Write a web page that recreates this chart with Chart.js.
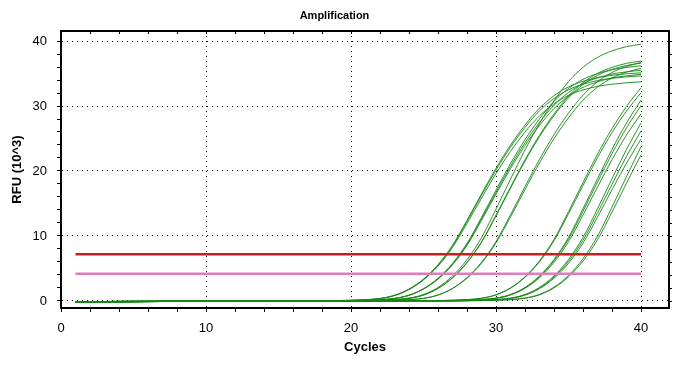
<!DOCTYPE html>
<html>
<head>
<meta charset="utf-8">
<script src="https://cdn.jsdelivr.net/npm/chart.js@4.4.1/dist/chart.umd.min.js"></script>
<style>
  html, body { margin: 0; padding: 0; background: #fff; }
</style>
</head>
<body>
<canvas id="cv_amp" width="689" height="365"></canvas>
<script>
// cycles on the x axis
const cycles = [1,2,3,4,5,6,7,8,9,10,11,12,13,14,15,16,17,18,19,20,21,22,23,24,25,26,27,28,29,30,31,32,33,34,35,36,37,38,39,40];

const xTickValues = [0,2,4,6,8,10,12,14,16,18,20,22,24,26,28,30,32,34,36,38,40];
const yTickValues = [0,2,4,6,8,10,12,14,16,18,20,22,24,26,28,30,32,34,36,38,40];
const xTickLabels = [0,10,20,30,40];
const yTickLabels = [0,10,20,30,40];

// threshold lines (RFU x 10^3)
const thresholds = [7.2, 4.2];
const thresholdColors = ['#d01c1c', '#e27bbb'];

// amplification curves, RFU (10^3) per cycle
const well01 = [-0.22,-0.19,-0.16,-0.13,-0.11,-0.09,-0.08,-0.06,-0.05,-0.04,-0.03,-0.02,-0.02,-0.01,-0.01,0,0,0.03,0.06,0.1,0.19,0.38,0.86,1.8,3.33,5.51,8.46,12.26,16.25,20.14,23.66,26.7,29.26,31.16,32.49,33.35,33.92,34.25,34.49,34.63];
const well02 = [-0.1,-0.09,-0.08,-0.07,-0.06,-0.05,-0.04,-0.03,-0.03,-0.02,-0.02,-0.01,-0.01,0,0,0,0.01,0.03,0.06,0.1,0.19,0.37,0.83,1.76,3.24,5.37,8.23,11.93,15.82,19.61,23.03,25.99,28.49,30.34,31.64,32.47,33.02,33.35,33.58,33.72];
const well03 = [-0.22,-0.19,-0.16,-0.13,-0.11,-0.09,-0.08,-0.06,-0.05,-0.04,-0.03,-0.02,-0.02,-0.01,-0.01,0,0,0.03,0.06,0.11,0.19,0.39,0.87,1.83,3.37,5.59,8.57,12.42,16.47,20.42,23.98,27.06,29.66,31.59,32.93,33.8,34.38,34.72,34.96,35.1];
const well04 = [-0.1,-0.09,-0.08,-0.07,-0.06,-0.05,-0.04,-0.03,-0.03,-0.02,-0.02,-0.01,-0.01,0,0,0,0.01,0.02,0.03,0.06,0.11,0.2,0.39,0.88,1.86,3.42,5.67,8.7,12.62,16.72,20.73,24.35,27.48,30.12,32.08,33.45,34.33,34.91,35.26,35.5];
const well05 = [-0.22,-0.19,-0.16,-0.13,-0.11,-0.09,-0.08,-0.06,-0.05,-0.04,-0.03,-0.02,-0.02,-0.01,-0.01,0,0,0.01,0.03,0.06,0.11,0.19,0.38,0.86,1.83,3.36,5.57,8.55,12.4,16.43,20.37,23.93,27.0,29.6,31.52,32.87,33.73,34.31,34.64,34.88];
const well06 = [-0.1,-0.09,-0.08,-0.07,-0.06,-0.05,-0.04,-0.03,-0.03,-0.02,-0.02,-0.01,-0.01,0,0,0,0.01,0.02,0.03,0.06,0.11,0.2,0.4,0.9,1.89,3.49,5.78,8.87,12.86,17.05,21.14,24.83,28.02,30.71,32.7,34.1,34.99,35.59,35.94,36.19];
const well07 = [-0.22,-0.19,-0.16,-0.13,-0.11,-0.09,-0.08,-0.06,-0.05,-0.04,-0.03,-0.02,-0.02,-0.01,-0.01,0,0,0.01,0.02,0.03,0.07,0.12,0.22,0.44,0.99,2.08,3.84,6.36,9.75,14.14,18.74,23.24,27.29,30.8,33.76,35.95,37.48,38.47,39.13,39.51];
const well08 = [-0.1,-0.09,-0.08,-0.07,-0.06,-0.05,-0.04,-0.03,-0.03,-0.02,-0.02,-0.01,-0.01,0,0,0,0.01,0.01,0.02,0.03,0.06,0.11,0.2,0.41,0.91,1.93,3.55,5.89,9.03,13.09,17.36,21.52,25.27,28.52,31.26,33.29,34.71,35.63,36.24,36.59];
const well09 = [-0.22,-0.19,-0.16,-0.13,-0.11,-0.09,-0.08,-0.06,-0.05,-0.04,-0.03,-0.02,-0.02,-0.01,-0.01,0,0,0.01,0.02,0.03,0.06,0.11,0.2,0.41,0.92,1.95,3.58,5.94,9.11,13.21,17.51,21.71,25.5,28.77,31.54,33.59,35.02,35.94,36.56,36.92];
const well10 = [-0.1,-0.09,-0.08,-0.07,-0.06,-0.05,-0.04,-0.03,-0.03,-0.02,-0.02,-0.01,-0.01,0,0,0,0.01,0.01,0.01,0.02,0.03,0.06,0.11,0.21,0.41,0.93,1.95,3.6,5.96,9.15,13.26,17.58,21.79,25.6,28.89,31.66,33.72,35.16,36.08,36.7];
const well11 = [-0.22,-0.19,-0.16,-0.13,-0.11,-0.09,-0.08,-0.06,-0.05,-0.04,-0.03,-0.02,-0.02,-0.01,-0.01,0,0,0.01,0.01,0.02,0.03,0.06,0.11,0.2,0.4,0.9,1.91,3.51,5.82,8.93,12.94,17.15,21.26,24.97,28.18,30.89,32.9,34.3,35.21,35.81];
const well12 = [-0.1,-0.09,-0.08,-0.07,-0.06,-0.05,-0.04,-0.03,-0.03,-0.02,-0.02,-0.01,-0.01,0,0,0,0.01,0.01,0.01,0.01,0.01,0.02,0.02,0.02,0.03,0.06,0.12,0.21,0.43,0.96,2.02,3.73,6.18,9.48,13.74,18.21,22.58,26.52,29.93,32.8];
const well13 = [-0.22,-0.19,-0.16,-0.13,-0.11,-0.09,-0.08,-0.06,-0.05,-0.04,-0.03,-0.02,-0.02,-0.01,-0.01,0,0,0.01,0.01,0.01,0.01,0.02,0.02,0.02,0.03,0.06,0.11,0.21,0.42,0.94,1.98,3.64,6.03,9.26,13.42,17.78,22.05,25.9,29.22,32.03];
const well14 = [-0.22,-0.19,-0.16,-0.13,-0.11,-0.09,-0.08,-0.06,-0.05,-0.04,-0.03,-0.02,-0.02,-0.01,-0.01,0,0,0.01,0.01,0.01,0.01,0.01,0.02,0.02,0.02,0.03,0.07,0.12,0.22,0.44,0.99,2.09,3.85,6.38,9.79,14.19,18.81,23.32,27.39,30.91];
const well15 = [-0.1,-0.09,-0.08,-0.07,-0.06,-0.05,-0.04,-0.03,-0.03,-0.02,-0.02,-0.01,-0.01,0,0,0,0.01,0.01,0.01,0.01,0.01,0.01,0.02,0.02,0.02,0.03,0.06,0.12,0.21,0.43,0.96,2.03,3.75,6.21,9.52,13.8,18.3,22.68,26.64,30.07];
const well16 = [-0.22,-0.19,-0.16,-0.13,-0.11,-0.09,-0.08,-0.06,-0.05,-0.04,-0.03,-0.02,-0.02,-0.01,-0.01,0,0,0.01,0.01,0.01,0.01,0.01,0.02,0.02,0.02,0.03,0.06,0.11,0.21,0.41,0.92,1.95,3.59,5.95,9.12,13.22,17.53,21.73,25.52,28.8];
const well17 = [-0.1,-0.09,-0.08,-0.07,-0.06,-0.05,-0.04,-0.03,-0.03,-0.02,-0.02,-0.01,-0.01,0,0,0,0.01,0.01,0.01,0.01,0.01,0.01,0.01,0.02,0.02,0.02,0.03,0.07,0.12,0.22,0.44,0.99,2.09,3.85,6.38,9.79,14.19,18.81,23.32,27.39];
const well18 = [-0.22,-0.19,-0.16,-0.13,-0.11,-0.09,-0.08,-0.06,-0.05,-0.04,-0.03,-0.02,-0.02,-0.01,-0.01,0,0,0.01,0.01,0.01,0.01,0.01,0.01,0.02,0.02,0.02,0.03,0.06,0.12,0.21,0.42,0.95,2.0,3.68,6.09,9.35,13.55,17.96,22.26,26.15];
const well19 = [-0.1,-0.09,-0.08,-0.07,-0.06,-0.05,-0.04,-0.03,-0.03,-0.02,-0.02,-0.01,-0.01,0,0,0,0.01,0.01,0.01,0.01,0.01,0.01,0.01,0.02,0.02,0.02,0.03,0.06,0.11,0.2,0.4,0.9,1.9,3.5,5.8,8.9,12.9,17.1,21.2,24.9];
const well20 = [-0.22,-0.19,-0.16,-0.13,-0.11,-0.09,-0.08,-0.06,-0.05,-0.04,-0.03,-0.02,-0.02,-0.01,-0.01,0,0,0.01,0.01,0.01,0.01,0.01,0.01,0.01,0.02,0.02,0.02,0.03,0.07,0.12,0.22,0.45,1.01,2.13,3.92,6.5,9.97,14.45,19.15,23.74];
const well21 = [-0.1,-0.09,-0.08,-0.07,-0.06,-0.05,-0.04,-0.03,-0.03,-0.02,-0.02,-0.01,-0.01,0,0,0,0.01,0.01,0.01,0.01,0.01,0.01,0.01,0.01,0.02,0.02,0.02,0.03,0.06,0.12,0.21,0.42,0.95,2.01,3.71,6.15,9.43,13.67,18.13,22.47];

const wells = [well01,well02,well03,well04,well05,well06,well07,well08,well09,well10,well11,
               well12,well13,well14,well15,well16,well17,well18,well19,well20,well21];

const fontFamily = '"Liberation Sans", Arial, sans-serif';
const curveColor = 'rgba(22,135,22,0.9)';

const datasets = [];
thresholds.forEach((t, i) => {
    datasets.push({
        data: [{x: cycles[0], y: t}, {x: cycles[cycles.length - 1], y: t}],
        borderColor: thresholdColors[i],
        borderWidth: 2.5,
        pointRadius: 0,
        order: 0
    });
});
wells.forEach(w => {
    datasets.push({
        data: cycles.map((c, i) => ({x: c, y: w[i]})),
        borderColor: curveColor,
        borderWidth: 1,
        pointRadius: 0,
        cubicInterpolationMode: 'monotone',
        order: 1
    });
});

// top and right frame with small tick marks
const framePlugin = {
    id: 'frame',
    afterDraw(chart) {
        const {ctx, chartArea: a, scales: {x, y}} = chart;
        ctx.save();
        ctx.strokeStyle = '#000';
        ctx.lineWidth = 2;
        ctx.beginPath();
        ctx.moveTo(a.left, a.top);
        ctx.lineTo(a.right, a.top);
        ctx.lineTo(a.right, a.bottom);
        ctx.stroke();
        ctx.lineWidth = 1;
        ctx.beginPath();
        x.ticks.forEach(t => {
            const px = Math.round(x.getPixelForValue(t.value)) + 0.5;
            ctx.moveTo(px, a.top);
            ctx.lineTo(px, a.top + 3);
        });
        y.ticks.forEach(t => {
            const py = Math.round(y.getPixelForValue(t.value)) + 0.5;
            ctx.moveTo(a.right, py);
            ctx.lineTo(a.right + 3, py);
        });
        ctx.stroke();
        ctx.restore();
    }
};

const gridColor = (labels) => (c) => (c.tick && labels.includes(c.tick.value)) ? '#000' : 'rgba(0,0,0,0)';

new Chart(document.getElementById('cv_amp').getContext('2d'), {
    type: 'line',
    data: { datasets },
    options: {
        responsive: false,
        animation: false,
        events: [],
        layout: { padding: { left: 0, right: 20, top: 0, bottom: 0 } },
        plugins: {
            legend: { display: false },
            tooltip: { enabled: false },
            title: {
                display: true,
                text: 'Amplification',
                color: '#000',
                font: { family: fontFamily, size: 11, weight: 'bold' },
                padding: { top: 9.5, bottom: 8.3 }
            }
        },
        scales: {
            x: {
                type: 'linear',
                min: 0,
                max: 41.93,
                afterBuildTicks: s => { s.ticks = xTickValues.map(v => ({value: v})); },
                afterFit: s => { s.height = 57; },
                ticks: {
                    autoSkip: false,
                    maxRotation: 0,
                    padding: 9,
                    color: '#000',
                    font: { family: fontFamily, size: 13 },
                    callback: v => xTickLabels.includes(v) ? String(v) : ''
                },
                grid: { color: gridColor(xTickLabels), tickColor: '#000', tickLength: 4, lineWidth: 1 },
                border: { display: true, color: '#000', width: 2, dash: [1, 4] },
                title: {
                    display: true,
                    text: 'Cycles',
                    color: '#000',
                    font: { family: fontFamily, size: 13, weight: 'bold' },
                    padding: { top: 0, bottom: 10 }
                }
            },
            y: {
                type: 'linear',
                min: -1.08,
                max: 41.54,
                afterBuildTicks: s => { s.ticks = yTickValues.map(v => ({value: v})); },
                afterFit: s => { s.width = 61; },
                ticks: {
                    autoSkip: false,
                    padding: 10,
                    color: '#000',
                    font: { family: fontFamily, size: 13 },
                    callback: v => yTickLabels.includes(v) ? String(v) : ''
                },
                grid: { color: gridColor(yTickLabels), tickColor: '#000', tickLength: 4, lineWidth: 1 },
                border: { display: true, color: '#000', width: 2, dash: [1, 4] },
                title: {
                    display: true,
                    text: 'RFU (10^3)',
                    color: '#000',
                    font: { family: fontFamily, size: 13, weight: 'bold' },
                    padding: { top: 10, bottom: 0 }
                }
            }
        }
    },
    plugins: [framePlugin]
});
</script>
</body>
</html>
